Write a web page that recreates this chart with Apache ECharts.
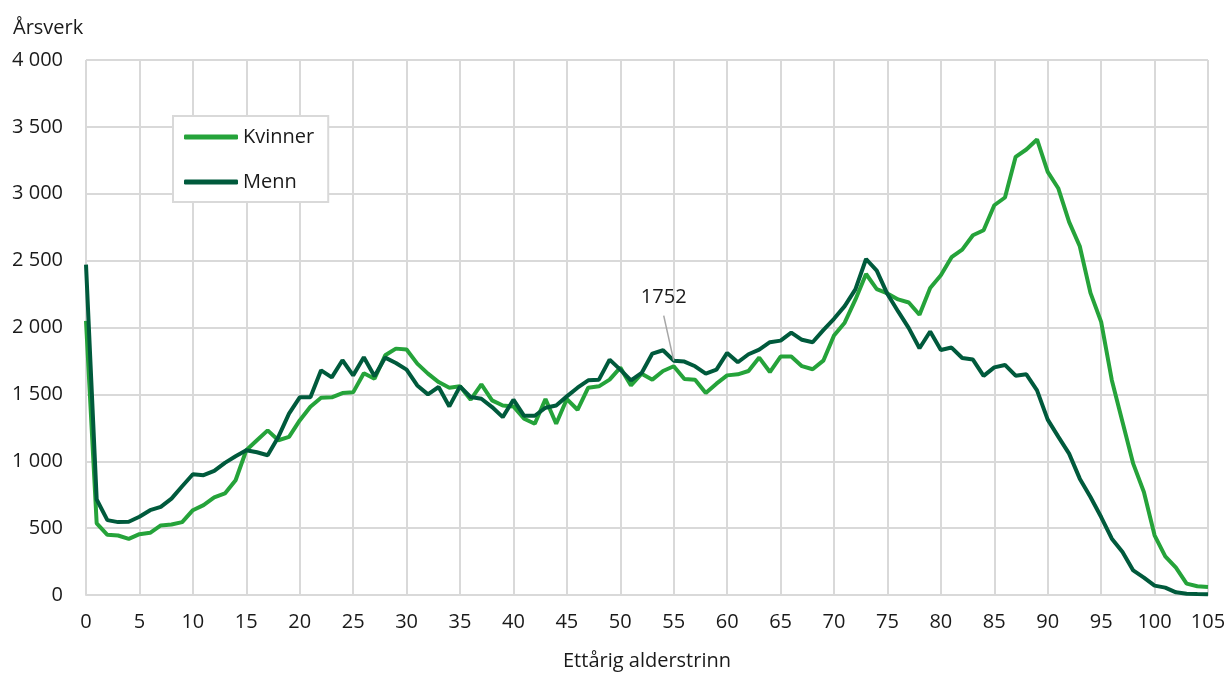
<!DOCTYPE html>
<html>
<head>
<meta charset="utf-8">
<script src="https://cdn.jsdelivr.net/npm/echarts@6/dist/echarts.min.js"></script>
<style>
html,body{margin:0;padding:0;background:#fff;}
#c{width:1227px;height:674px;}
</style>
</head>
<body>
<div id="c"></div>
<script>
const ages = Array.from({length: 106}, (_, i) => i);
const xTicks = [0,5,10,15,20,25,30,35,40,45,50,55,60,65,70,75,80,85,90,95,100,105];
const yTicks = [0,500,1000,1500,2000,2500,3000,3500,4000];
const kvinner = [2050,535,450,445,420,455,465,520,527,545,634,672,729,759,858,1082,1157,1231,1157,1182,
1305,1408,1475,1478,1510,1515,1658,1617,1792,1842,1835,1730,1655,1592,1550,1560,1460,1575,1455,1417,
1410,1318,1280,1465,1280,1465,1385,1550,1560,1610,1700,1567,1655,1610,1675,1710,1615,1610,1510,1580,
1642,1650,1675,1775,1667,1783,1783,1711,1688,1752,1940,2036,2208,2400,2287,2255,2210,2187,2095,2295,
2390,2526,2582,2690,2727,2914,2972,3276,3331,3406,3164,3039,2790,2608,2259,2042,1606,1294,982,770,
446,289,204,85,65,60];
const menn = [2470,714,560,545,548,585,634,659,721,813,903,896,928,988,1037,1082,1067,1045,1182,1356,
1478,1478,1680,1627,1755,1642,1778,1635,1775,1735,1685,1567,1500,1555,1410,1560,1480,1467,1405,1330,
1460,1340,1340,1400,1417,1485,1550,1605,1610,1760,1685,1605,1660,1805,1830,1752,1745,1710,1655,1685,
1810,1740,1800,1835,1890,1902,1962,1908,1890,1980,2065,2160,2285,2512,2425,2250,2120,1995,1845,1970,
1832,1850,1772,1760,1638,1702,1720,1640,1650,1530,1311,1182,1057,870,733,583,421,322,184,130,
70,55,20,10,7,5];
const seriesNames = ['Kvinner','Menn'];
const annotAge = 55;
const annotText = '1752';
const yTitle = 'Årsverk';
const xTitle = 'Ettårig alderstrinn';

const FONT = '"Open Sans", "Noto Sans", sans-serif';
const chart = echarts.init(document.getElementById('c'), null, {renderer: 'canvas'});
const fmt = v => String(v).replace(/\B(?=(\d{3})+(?!\d))/g, ' ');
const option = {
  animation: false,
  backgroundColor: '#fff',
  textStyle: {fontFamily: FONT},
  grid: {left: 86, right: 19, top: 60, bottom: 79, containLabel: false, outerBoundsMode: 'none'},
  legend: {
    orient: 'vertical', left: 173, top: 116,
    padding: [11, 14, 10, 11],
    itemGap: 25, itemWidth: 54, itemHeight: 5,
    icon: 'roundRect',
    borderColor: '#d9d9d9', borderWidth: 2, backgroundColor: '#fff',
    textStyle: {fontSize: 20, color: '#1a1a1a', fontFamily: FONT, padding: [0,0,0,0]},
    data: seriesNames
  },
  xAxis: {
    type: 'value', min: xTicks[0], max: xTicks[xTicks.length-1], interval: 5,
    name: xTitle, nameLocation: 'middle', nameGap: 56,
    nameTextStyle: {fontSize: 20, color: '#1a1a1a', fontFamily: FONT},
    axisLine: {show: true, lineStyle: {color: '#d9d9d9', width: 2}},
    axisTick: {show: false},
    axisLabel: {fontSize: 20, color: '#1a1a1a', margin: 17, fontFamily: FONT},
    splitLine: {show: true, lineStyle: {color: '#d9d9d9', width: 2}}
  },
  yAxis: {
    type: 'value', min: yTicks[0], max: yTicks[yTicks.length-1], interval: 500,
    axisLine: {show: false}, axisTick: {show: false},
    axisLabel: {fontSize: 20, color: '#1a1a1a', margin: 23, fontFamily: FONT, formatter: fmt},
    splitLine: {show: true, lineStyle: {color: '#d9d9d9', width: 2}}
  },
  series: [
    {name: seriesNames[0], type: 'line', showSymbol: false, symbol: 'none',
     data: ages.map((a, i) => [a, kvinner[i]]),
     lineStyle: {color: '#25a33a', width: 4}, itemStyle: {color: '#25a33a'}, z: 2},
    {name: seriesNames[1], type: 'line', showSymbol: false, symbol: 'none',
     data: ages.map((a, i) => [a, menn[i]]),
     lineStyle: {color: '#005a3c', width: 4}, itemStyle: {color: '#005a3c'}, z: 3}
  ]
};
chart.setOption(option);
const p = chart.convertToPixel({gridIndex: 0}, [annotAge, menn[annotAge]]);
chart.setOption({
  graphic: [
    {type: 'text', left: 13, top: 18,
     style: {text: yTitle, fontSize: 20, fill: '#1a1a1a', fontFamily: FONT}},
    {type: 'line', shape: {x1: p[0] - 10, y1: p[1] - 45, x2: p[0], y2: p[1]},
     style: {stroke: '#a6a6a6', lineWidth: 1.5}, z: 10},
    {type: 'text', x: p[0] - 10, y: p[1] - 63,
     style: {text: annotText, fontSize: 20, fill: '#1a1a1a', fontFamily: FONT,
             align: 'center', verticalAlign: 'middle'}, z: 10}
  ]
});
</script>
</body>
</html>
